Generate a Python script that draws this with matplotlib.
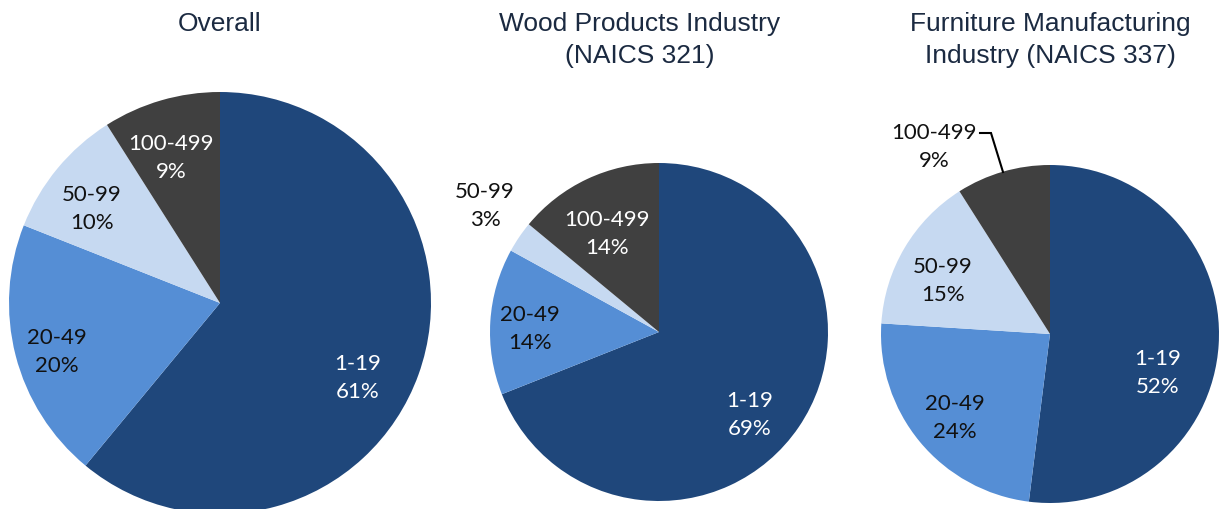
import matplotlib
matplotlib.use("Agg")
import matplotlib.pyplot as plt

# Establishment size classes (number of employees) and their shares, in percent
size_classes = ["1-19", "20-49", "50-99", "100-499"]
overall = [61, 20, 10, 9]
wood_products = [69, 14, 3, 14]
furniture = [52, 24, 15, 9]

titles = ["Overall", "Wood Products Industry\n(NAICS 321)",
          "Furniture Manufacturing\nIndustry (NAICS 337)"]

slice_colors = ["#1F477B", "#558ED5", "#C6D9F1", "#404040"]
label_colors = ["white", "#111111", "#111111", "white"]

W, H = 1225, 510

fig = plt.figure(figsize=(W / 100, H / 100), dpi=100)
ax = fig.add_axes([0, 0, 1, 1])


def py(y):
    """Convert a top-down pixel row into the axes' bottom-up coordinate."""
    return H - y


# pie layout: centre (x, y from top), radius, title centre x
panels = [
    dict(values=overall, center=(220, 304), radius=211, title_x=220,
         label_pos=[(358, 378), (57, 352), (92, 209), (171, 158)]),
    dict(values=wood_products, center=(659, 333), radius=169, title_x=640,
         label_pos=[(750, 415), (530, 329), (485, 206), (607, 234)],
         outside=[2]),
    dict(values=furniture, center=(1050, 335), radius=169, title_x=1050,
         label_pos=[(1158, 373), (955, 418), (943, 281), (934, 147)],
         outside=[3],
         leader=[(980, 134), (991, 134), (1003, 173)]),
]

for panel, title in zip(panels, titles):
    cx, cy = panel["center"]
    ax.pie(panel["values"], colors=slice_colors, startangle=90,
           counterclock=False, center=(cx, py(cy)), radius=panel["radius"],
           wedgeprops=dict(linewidth=0, antialiased=True))
    outside = panel.get("outside", [])
    for i, (name, val) in enumerate(zip(size_classes, panel["values"])):
        lx, ly = panel["label_pos"][i]
        color = "#111111" if i in outside else label_colors[i]
        ax.text(lx, py(ly), f"{name}\n{val}%", ha="center", va="center",
                fontsize=16, family=["Lato", "DejaVu Sans"], color=color,
                linespacing=1.55, multialignment="center")
    if "leader" in panel:
        xs = [p[0] for p in panel["leader"]]
        ys = [py(p[1]) for p in panel["leader"]]
        ax.plot(xs, ys, color="black", linewidth=1.5, solid_joinstyle="miter")
    ax.text(panel["title_x"], py(40 if "\n" in title else 24), title,
            ha="center", va="center", fontsize=19,
            family=["Liberation Sans", "DejaVu Sans"], color="#1B2A41",
            linespacing=1.4, multialignment="center")

ax.set_xlim(0, W)
ax.set_ylim(0, H)
ax.set_aspect("equal")
ax.axis("off")

fig.savefig("out.png", dpi=100, facecolor="white")
